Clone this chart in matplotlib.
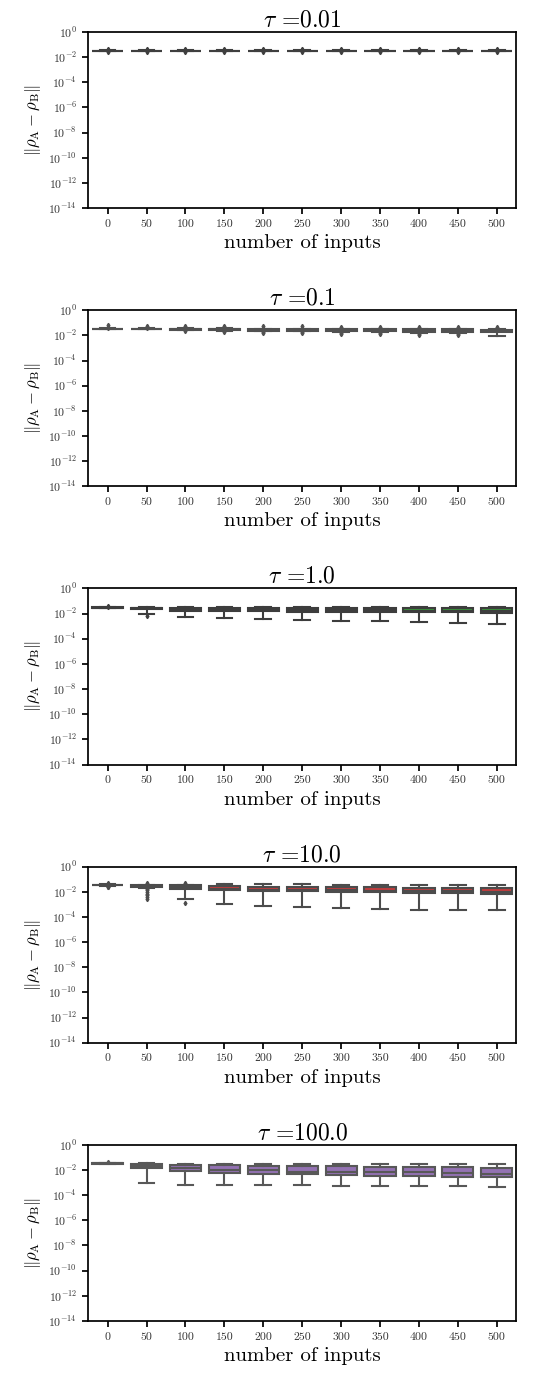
import colorsys

import numpy as np
import matplotlib

matplotlib.use("Agg")
import matplotlib.pyplot as plt
from matplotlib.colors import to_rgb
from matplotlib.ticker import NullLocator

plt.rcParams["font.family"] = "serif"
plt.rcParams["font.serif"] = ["cmr10", "DejaVu Serif"]
plt.rcParams["mathtext.fontset"] = "cm"
plt.rcParams["axes.formatter.use_mathtext"] = True

TAUS = ["0.01", "0.1", "1.0", "10.0", "100.0"]
N_INPUTS = [0, 50, 100, 150, 200, 250, 300, 350, 400, 450, 500]
PANEL_COLORS = ["#1f77b4", "#ff7f0e", "#2ca02c", "#d62728", "#9467bd"]

# log10 of the box statistics, one row per tau
Q3 = [
    [-1.48, -1.48, -1.48, -1.48, -1.48, -1.48, -1.48, -1.48, -1.48, -1.48, -1.48],
    [-1.47, -1.47, -1.47, -1.48, -1.50, -1.50, -1.51, -1.53, -1.53, -1.53, -1.54],
    [-1.50, -1.52, -1.52, -1.52, -1.52, -1.52, -1.52, -1.52, -1.52, -1.52, -1.52],
    [-1.43, -1.49, -1.49, -1.57, -1.62, -1.65, -1.65, -1.65, -1.68, -1.68, -1.70],
    [-1.45, -1.54, -1.59, -1.62, -1.65, -1.67, -1.70, -1.72, -1.72, -1.75, -1.80],
]
MEDIAN = [
    [-1.49, -1.49, -1.49, -1.49, -1.49, -1.49, -1.49, -1.49, -1.49, -1.49, -1.49],
    [-1.49, -1.49, -1.51, -1.53, -1.55, -1.56, -1.58, -1.60, -1.62, -1.63, -1.65],
    [-1.52, -1.58, -1.65, -1.68, -1.68, -1.71, -1.73, -1.73, -1.76, -1.76, -1.79],
    [-1.45, -1.55, -1.60, -1.76, -1.82, -1.84, -1.89, -1.92, -1.95, -1.97, -2.03],
    [-1.47, -1.68, -1.87, -2.00, -2.03, -2.13, -2.13, -2.18, -2.18, -2.24, -2.29],
]
Q1 = [
    [-1.50, -1.50, -1.50, -1.50, -1.50, -1.50, -1.50, -1.50, -1.50, -1.50, -1.50],
    [-1.51, -1.51, -1.55, -1.59, -1.62, -1.64, -1.66, -1.69, -1.72, -1.74, -1.76],
    [-1.54, -1.67, -1.77, -1.80, -1.82, -1.85, -1.85, -1.88, -1.90, -1.90, -1.93],
    [-1.47, -1.64, -1.77, -1.86, -1.94, -1.96, -1.98, -2.03, -2.06, -2.08, -2.16],
    [-1.49, -1.86, -2.06, -2.22, -2.30, -2.35, -2.40, -2.45, -2.48, -2.53, -2.58],
]
WHIS_HI = [
    [-1.46, -1.46, -1.46, -1.46, -1.46, -1.46, -1.46, -1.46, -1.46, -1.46, -1.46],
    [-1.45, -1.45, -1.44, -1.45, -1.46, -1.46, -1.47, -1.48, -1.49, -1.49, -1.49],
    [-1.48, -1.49, -1.48, -1.48, -1.48, -1.48, -1.48, -1.48, -1.48, -1.48, -1.48],
    [-1.40, -1.45, -1.45, -1.39, -1.39, -1.39, -1.42, -1.42, -1.42, -1.45, -1.45],
    [-1.44, -1.47, -1.50, -1.50, -1.50, -1.50, -1.50, -1.50, -1.50, -1.50, -1.50],
]
WHIS_LO = [
    [-1.52, -1.52, -1.52, -1.52, -1.52, -1.52, -1.52, -1.52, -1.52, -1.52, -1.52],
    [-1.53, -1.53, -1.58, -1.63, -1.67, -1.69, -1.72, -1.76, -1.80, -1.82, -2.06],
    [-1.56, -2.03, -2.27, -2.35, -2.43, -2.51, -2.56, -2.59, -2.67, -2.72, -2.80],
    [-1.50, -1.71, -2.58, -2.97, -3.10, -3.21, -3.29, -3.37, -3.42, -3.45, -3.45],
    [-1.51, -3.05, -3.16, -3.16, -3.21, -3.21, -3.24, -3.24, -3.24, -3.29, -3.32],
]
FLIERS = [
    [[-1.35, -1.40, -1.44, -1.55]] * 11,
    [
        [-1.19, -1.30, -1.38],
        [-1.22, -1.32, -1.39],
        [-1.24, -1.34, -1.62],
        [-1.27, -1.36, -1.70],
        [-1.27, -1.38, -1.72, -1.78],
        [-1.27, -1.38, -1.73, -1.78],
        [-1.30, -1.40, -1.78, -1.86],
        [-1.32, -1.41, -1.82, -1.92],
        [-1.35, -1.42, -1.86, -1.97],
        [-1.35, -1.42, -1.88, -2.00],
        [-1.35, -1.42],
    ],
    [[-1.41, -1.45], [-2.19], [], [], [], [], [], [], [], [], []],
    [
        [-1.29, -1.34, -1.58, -1.63],
        [-1.29, -1.36, -1.80, -1.89, -2.00, -2.15, -2.29, -2.45, -2.60],
        [-1.32, -1.38, -2.87],
        [], [], [], [], [], [], [], [],
    ],
    [[-1.39], [], [], [], [], [], [], [], [], [], []],
]


def desaturate(color, prop):
    h, l, s = colorsys.rgb_to_hls(*to_rgb(color))
    return colorsys.hls_to_rgb(h, l, s * prop)


def panel_gray(color):
    _, l, _ = colorsys.rgb_to_hls(*to_rgb(color))
    return (l * 0.6,) * 3


fig, axes = plt.subplots(5, 1, figsize=(5.44, 13.74), dpi=100)
fig.subplots_adjust(left=0.162, right=0.949, top=0.9767, bottom=0.0386, hspace=0.58)

for i, ax in enumerate(axes):
    face = desaturate(PANEL_COLORS[i], 0.75)
    gray = panel_gray(face)
    stats = []
    for j in range(len(N_INPUTS)):
        stats.append({
            "med": 10.0 ** MEDIAN[i][j],
            "q1": 10.0 ** Q1[i][j],
            "q3": 10.0 ** Q3[i][j],
            "whislo": 10.0 ** WHIS_LO[i][j],
            "whishi": 10.0 ** WHIS_HI[i][j],
            "fliers": 10.0 ** np.array(FLIERS[i][j]),
        })
    ax.bxp(
        stats,
        positions=range(len(N_INPUTS)),
        widths=0.8,
        patch_artist=True,
        boxprops=dict(facecolor=face, edgecolor=gray, linewidth=1.5),
        whiskerprops=dict(color=gray, linewidth=1.5),
        capprops=dict(color=gray, linewidth=1.5),
        medianprops=dict(color=gray, linewidth=1.5),
        flierprops=dict(marker="d", markerfacecolor=gray, markeredgecolor=gray, markersize=2.2),
    )
    ax.set_yscale("log")
    ax.set_ylim(1e-14, 1e0)
    ax.set_yticks(10.0 ** np.arange(-14, 1, 2))
    ax.yaxis.set_minor_locator(NullLocator())
    ax.set_xlim(-0.5, len(N_INPUTS) - 0.5)
    ax.set_xticks(range(len(N_INPUTS)))
    ax.set_xticklabels([str(n) for n in N_INPUTS])
    ax.tick_params(axis="both", direction="out", length=4.5, width=1.25,
                   labelsize=8.5, labelcolor="#333333")
    for spine in ax.spines.values():
        spine.set_linewidth(1.25)
    ax.set_title(r"$\tau$ =" + TAUS[i], fontsize=17, pad=4)
    ax.set_xlabel("number of inputs", fontsize=15, labelpad=4)
    ax.set_ylabel(r"$\Vert\rho_\mathrm{A} - \rho_\mathrm{B}\Vert$", fontsize=12)

fig.savefig("out.png", dpi=100)
